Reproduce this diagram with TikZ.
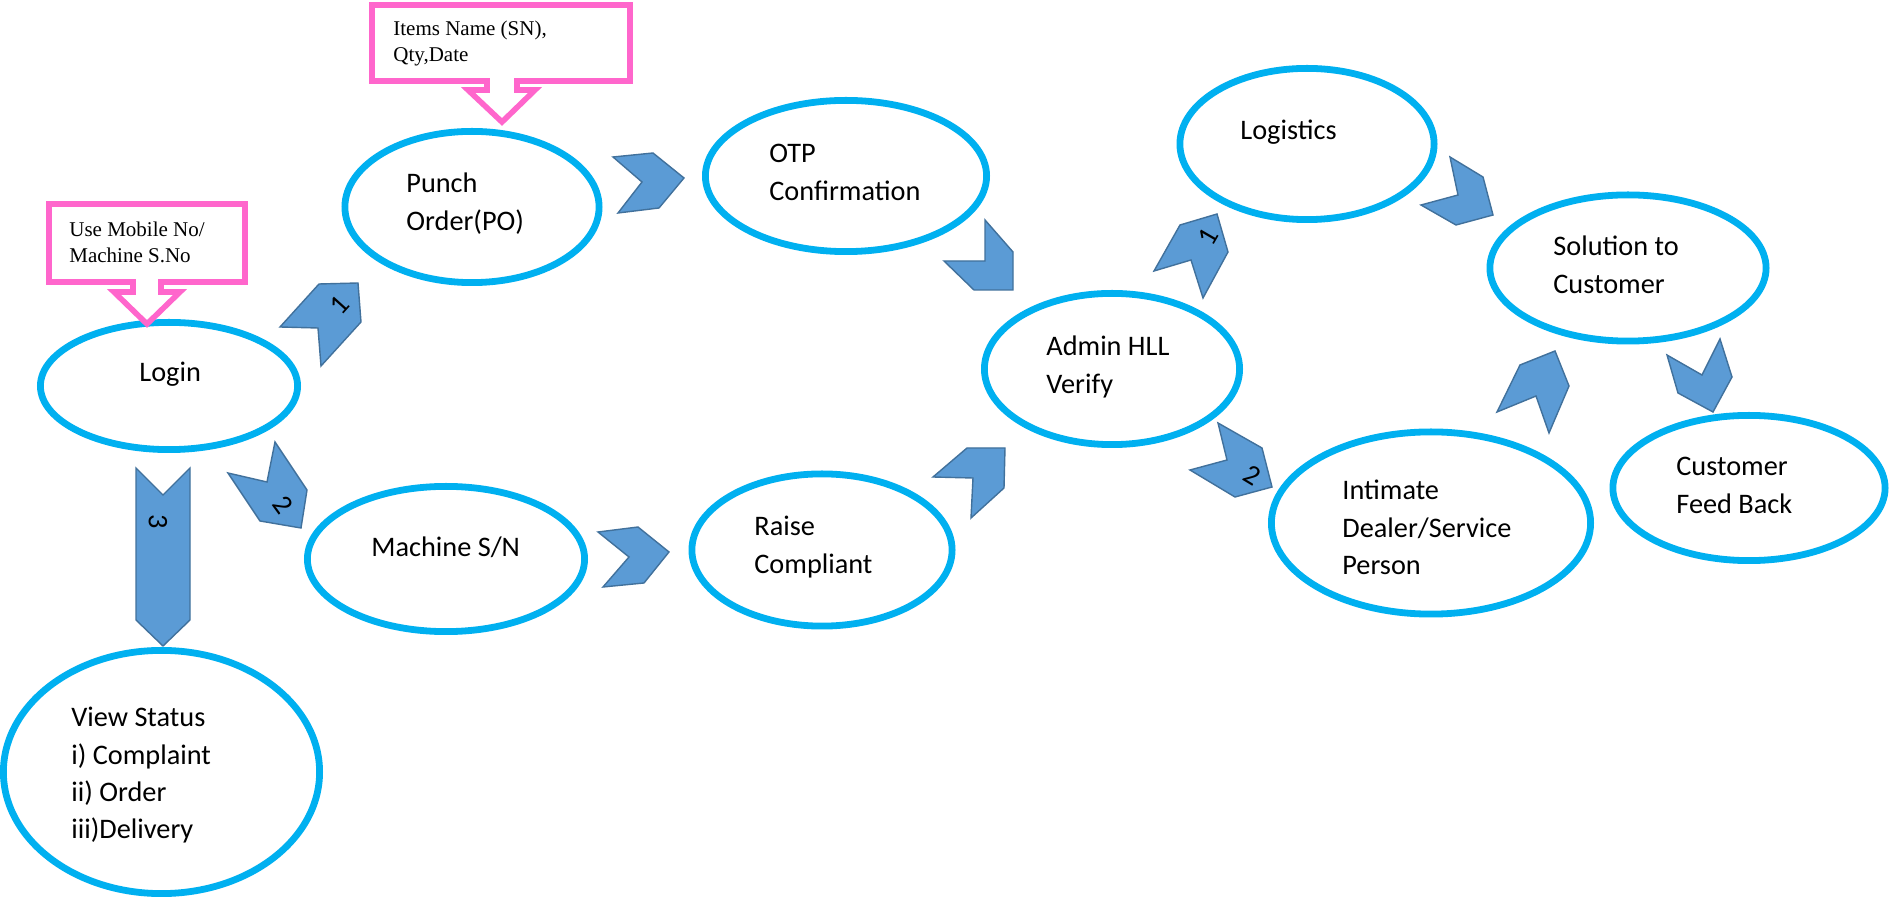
\documentclass[tikz,border=0pt]{standalone}
\usepackage{fontspec}
\setmainfont{Carlito}
\newfontfamily\tnr{Liberation Serif}
\usetikzlibrary{shapes.geometric}
\definecolor{bubc}{HTML}{00B0F0}
\definecolor{chevf}{HTML}{5B9BD5}
\definecolor{chevl}{HTML}{41719C}
\definecolor{pinkc}{HTML}{FF66CC}
\tikzset{
 bub/.style={ellipse, draw=bubc, line width=3.4pt, inner sep=0pt, fill=white},
 lbl/.style={anchor=base west, inner sep=0pt, font=\fontsize{14.15pt}{18.6pt}\selectfont},
 chev/.style={fill=chevf, draw=chevl, line width=0.7pt, line join=miter},
 call/.style={draw=pinkc, line width=2.8pt, line join=miter},
 ctext/.style={anchor=base west, inner sep=0pt, font=\tnr\fontsize{10.5pt}{12.75pt}\selectfont},
 num/.style={inner sep=0pt, font=\fontsize{14.15pt}{17pt}\selectfont},
}
\begin{document}
\begin{tikzpicture}[x=0.5pt, y=-0.5pt]
\useasboundingbox (0,0) rectangle (1892,897);
\fill[white] (0,0) rectangle (1892,897);
\clip (0,0) rectangle (1892,897);

% ellipses
\node[bub, minimum width=128.6pt, minimum height=63.6pt] (login) at (169,386) {};
\node[bub, minimum width=127.1pt, minimum height=75.6pt] (punch) at (472,207) {};
\node[bub, minimum width=140.6pt, minimum height=75.6pt] (otp) at (846,176) {};
\node[bub, minimum width=127.6pt, minimum height=75.6pt] (admin) at (1112,369) {};
\node[bub, minimum width=127.1pt, minimum height=75.6pt] (logis) at (1307,144) {};
\node[bub, minimum width=138.6pt, minimum height=72.6pt] (mach) at (446,559) {};
\node[bub, minimum width=130.1pt, minimum height=76.1pt] (raise) at (822,550) {};
\node[bub, minimum width=159.6pt, minimum height=91.1pt] (intim) at (1431,523) {};
\node[bub, minimum width=138.1pt, minimum height=73.1pt] (solut) at (1628,268) {};
\node[bub, minimum width=136.1pt, minimum height=72.6pt] (feedb) at (1749,488) {};
\node[bub, minimum width=158.1pt, minimum height=121.6pt] (view) at (161.5,772) {};

% texts
\node[lbl] (tlogin) at (139,382) {Login};
\node[lbl] (tpunch) at (406,193) {\vtop{\hbox{Punch}\hbox{Order(PO)}}};
\node[lbl] (totp) at (769,163) {\vtop{\hbox{OTP}\hbox{Confirmation}}};
\node[lbl] (tadmin) at (1046,356) {\vtop{\hbox{Admin HLL}\hbox{Verify}}};
\node[lbl] (tlogis) at (1240,140) {Logistics};
\node[lbl] (tmach) at (371,557) {Machine S/N};
\node[lbl] (traise) at (754,536) {\vtop{\hbox{Raise}\hbox{Compliant}}};
\node[lbl] (tintim) at (1342,500) {\vtop{\hbox{Intimate}\hbox{Dealer/Service}\hbox{Person}}};
\node[lbl] (tsolut) at (1553,256) {\vtop{\hbox{Solution to}\hbox{Customer}}};
\node[lbl] (tfeedb) at (1676,476) {\vtop{\hbox{Customer}\hbox{Feed Back}}};
\node[lbl] (tview) at (71,727) {\vtop{\hbox{View Status}\hbox{i) Complaint}\hbox{ii) Order}\hbox{iii)Delivery}}};

% callouts
\draw[call] (49,204) -- (245,204) -- (245,282) -- (161,282) -- (161,292) -- (180,292) -- (147,324) -- (114,292) -- (133,292) -- (133,282) -- (49,282) -- cycle;
\node[ctext] (c1) at (69,237) {\vtop{\hbox{Use Mobile No/}\hbox{Machine S.No}}};
\draw[call] (372,5) -- (630,5) -- (630,81) -- (517,81) -- (517,90) -- (535,90) -- (502,122) -- (468,90) -- (487,90) -- (487,81) -- (372,81) -- cycle;
\node[ctext] (c2) at (393,36) {\vtop{\hbox{Items Name (SN),}\hbox{Qty,Date}}};

% chevrons
\draw[chev] (280,327) -- (319,284) -- (358,283) -- (361,322) -- (321,366) -- (318,328) -- cycle;
\draw[chev] (275,442) -- (307,490) -- (301,528) -- (260,521) -- (228,473) -- (267,482) -- cycle;
\draw[chev] (136,468) -- (163,495) -- (190,468) -- (190,620) -- (163,646) -- (136,620) -- cycle;
\draw[chev] (613,157) -- (653,153) -- (684,178) -- (659,208) -- (618,213) -- (642,182) -- cycle;
\draw[chev] (985,220) -- (1013,252) -- (1013,290) -- (974,290) -- (944,261) -- (985,261) -- cycle;
\draw[chev] (598,532) -- (638,527) -- (669,552) -- (644,583) -- (603,587) -- (629,557) -- cycle;
\draw[chev] (933,477) -- (967,448) -- (1005,448) -- (1004,488) -- (971,518) -- (973,478) -- cycle;
\draw[chev] (1154,271) -- (1180,225) -- (1217,214) -- (1228,252) -- (1203,298) -- (1191,260) -- cycle;
\draw[chev] (1218,423) -- (1262,448) -- (1272,487) -- (1235,497) -- (1190,470) -- (1227,460) -- cycle;
\draw[chev] (1450,157) -- (1483,177) -- (1493,215) -- (1456,225) -- (1421,205) -- (1458,195) -- cycle;
\draw[chev] (1497,412) -- (1520,365) -- (1555,351) -- (1569,386) -- (1549,433) -- (1536,396) -- cycle;
\draw[chev] (1667,355) -- (1702,375) -- (1720,339) -- (1732,377) -- (1713,412) -- (1678,393) -- cycle;

% chevron numbers
\node[num, rotate=48] (n1a) at (340,305) {1};
\node[num, rotate=-54] (n2a) at (283,505) {2};
\node[num, rotate=-90] (n3) at (158,522) {3};
\node[num, rotate=60] (n1b) at (1208,237) {1};
\node[num, rotate=-31] (n2b) at (1252,475) {2};
\end{tikzpicture}
\end{document}
